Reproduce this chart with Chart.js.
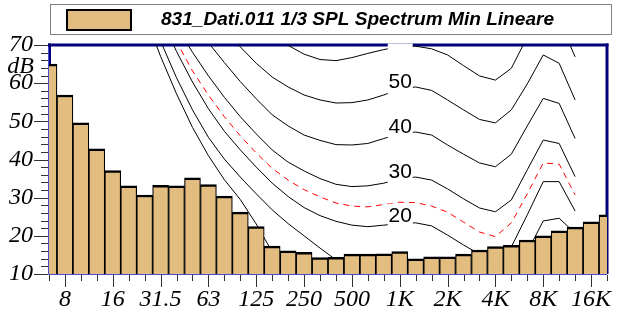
<!DOCTYPE html>
<html><head><meta charset="utf-8">
<script src="https://cdn.jsdelivr.net/npm/chart.js@4/dist/chart.umd.min.js"></script>
<style>html,body{margin:0;padding:0;background:#fff;overflow:hidden}#wrap{width:618px;height:322px}</style>
</head><body><div id="wrap"><canvas id="c" width="618" height="322"></canvas></div>
<script>
// ---- data ----
const bands = ['6.3','8','10','12.5','16','20','25','31.5','40','50','63','80','100','125','160','200','250','315','400','500','630','800','1K','1.25K','1.6K','2K','2.5K','3.15K','4K','5K','6.3K','8K','10K','12.5K','16K','20K'];
const seriesName = '831_Dati.011 1/3 SPL Spectrum Min Lineare';
const splMin = [65.0,56.9,49.6,42.8,37.1,33.1,30.7,33.2,33.1,35.2,33.4,30.4,26.2,22.4,17.3,16.1,15.7,14.3,14.4,15.2,15.2,15.3,15.9,14.0,14.5,14.5,15.2,16.3,17.2,17.5,18.9,20.0,21.3,22.3,23.7,25.5];
// contour curves: first band index + values (dB)
const curve60Start = 13, curve60 = [76.5,73.1,69.9,67.6,66.2,65.9,66.7,67.8,68.8,69.6,69.7,69.0,67.4,64.6,61.9,60.8,63.9,72.1,78.6,76.6,66.9];
const curve50Start = 11, curve50 = [74.5,69.5,65.2,61.6,59.0,56.9,55.6,54.8,54.9,55.6,56.9,58.5,59.0,58.1,55.6,53.0,50.5,49.6,53.0,59.8,67.4,65.2,55.6];
const curve40Start = 9,  curve40 = [76.0,70.6,65.4,60.4,55.9,51.7,48.8,46.4,45.0,43.9,43.8,44.2,45.5,46.7,47.2,46.4,43.8,41.4,39.1,38.1,41.4,48.8,56.0,54.7,45.5];
const curve30Start = 8,  curve30 = [74.9,68.1,61.9,56.3,51.2,46.7,42.5,39.3,37.0,35.0,33.5,32.9,33.1,33.8,34.9,35.4,34.6,32.3,29.7,27.3,26.3,29.4,37.3,45.1,44.2,35.5];
const curveRedStart = 7, curveRed = [79.0,70.9,63.2,56.9,51.2,46.2,41.7,37.7,34.6,32.1,30.2,28.6,27.8,27.6,28.2,28.8,28.7,27.8,26.2,23.6,21.0,19.8,23.4,31.0,39.1,38.8,30.7];
const curve20Start = 7,  curve20 = [77.3,68.3,60.3,53.3,47.4,42.5,38.0,33.8,30.3,27.4,25.3,23.8,22.8,22.4,22.8,23.2,23.4,22.6,20.2,17.6,15.2,14.2,17.1,25.5,34.2,34.2,26.5];
const curve10Start = 6,  curve10 = [81.9,71.0,61.4,53.0,45.8,40.1,35.4,31.0,26.8,23.2,20.0,16.8,13.7,12.6,12.1,12.4,12.9,13.2,12.4,10.0,7.4,5.3,4.2,7.4,15.8,23.9,24.6,20.7];
const curve0Start = 6,   curve0 = [78.1,67.0,57.2,48.4,41.0,34.7,29.5,23.1,15.8,12.4,9.8,7.5,6.0,5.0,4.5,5.0,5.5,5.5,5.0,3.0,1.0,-1.0,-2.0,0.0,8.0,15.0,16.0,12.0];
const yTickLabels = [10,20,30,40,50,60,70];
const curveLabelBand = 22; // 1K

// ---- helpers ----
function onBands(start, vals){ return bands.map((_, i) => (i >= start && i - start < vals.length) ? vals[i - start] : null); }
const BAR = '#E3BD80', NAVY = '#00007C';
const SERIF = 'Liberation Serif';
const lineDs = (vals, start, color, dash, label) => ({
  type:'line', label, data:onBands(start, vals), borderColor:color, borderWidth:1, borderDash:dash,
  pointRadius:0, tension:0, fill:false, order:1, spanGaps:false
});
const labelled = [[curve60,curve60Start,'60'],[curve50,curve50Start,'50'],[curve40,curve40Start,'40'],[curve30,curve30Start,'30'],[curve20,curve20Start,'20']];

const decor = {
  id:'decor',
  beforeDatasetsDraw(chart){
    const {ctx, chartArea:a} = chart;
    ctx.save();
    ctx.fillStyle = NAVY;
    ctx.fillRect(a.left-1, a.top-1.5, a.right-a.left+2.5, 3);
    ctx.fillRect(a.right-1.5, a.top-1.5, 3, a.bottom-a.top+1.5);
    ctx.fillRect(a.left-1, a.top-1.5, 3, a.bottom-a.top);
    ctx.restore();
  },
  afterDatasetsDraw(chart){
    const {ctx, chartArea:a, scales:{x,y}} = chart;
    ctx.save();
    ctx.strokeStyle = '#4a4ad0'; ctx.lineWidth = 1;
    ctx.beginPath();
    ctx.moveTo(a.left-0.5, a.top+2); ctx.lineTo(a.left-0.5, a.bottom+0.5);
    ctx.lineTo(a.right, a.bottom+0.5);
    ctx.stroke();
    // curve labels
    ctx.beginPath(); ctx.rect(a.left, a.top-1.5, a.right-a.left, a.bottom-a.top+1.5); ctx.clip();
    ctx.font = '21px Liberation Sans';
    ctx.textAlign = 'center'; ctx.textBaseline = 'middle';
    labelled.forEach(([vals,start,txt]) => {
      const v = vals[curveLabelBand - start];
      const cx = x.getPixelForValue(curveLabelBand) + 0.5;
      const cy = y.getPixelForValue(v) - 8;
      ctx.fillStyle = '#fff';
      ctx.fillRect(cx-12.5, cy-12, 25, 25.5);
      ctx.save();
      ctx.beginPath(); ctx.rect(a.left, a.top+2.5, a.right-a.left, a.bottom-a.top); ctx.clip();
      ctx.fillStyle = '#000';
      ctx.fillText(txt, cx, cy+1);
      ctx.restore();
    });
    ctx.restore();
  },
  afterDraw(chart){
    const {ctx, chartArea:a, scales:{x,y}} = chart;
    ctx.save();
    ctx.strokeStyle = '#333'; ctx.lineWidth = 1;
    ctx.beginPath();
    for (let v = 10; v <= 70; v += 2){
      const py = Math.round(y.getPixelForValue(v)) + 0.5;
      const len = v % 10 === 0 ? 14 : 7;
      ctx.moveTo(a.left-1-len, py); ctx.lineTo(a.left-1, py);
    }
    for (let i = 0; i < bands.length; i++){
      const px = Math.round(x.getPixelForValue(i)) + 0.5;
      const len = i % 3 === 1 ? 12 : 6;
      ctx.moveTo(px, a.bottom+1); ctx.lineTo(px, a.bottom+1+len);
    }
    ctx.stroke();
    // dB unit
    ctx.fillStyle = '#000';
    ctx.font = 'italic 24px ' + SERIF;
    ctx.textAlign = 'right'; ctx.textBaseline = 'middle';
    ctx.fillText('dB', 34, 67);
    // legend
    ctx.strokeStyle = '#808080'; ctx.lineWidth = 1;
    ctx.strokeRect(50.5, 4.5, 561, 30);
    ctx.fillStyle = BAR; ctx.fillRect(66, 9, 66, 22);
    ctx.strokeStyle = '#000'; ctx.lineWidth = 2; ctx.strokeRect(67, 10, 64, 20);
    let fs = 17;
    ctx.font = 'italic bold ' + fs + 'px Liberation Sans';
    fs = fs * 393 / ctx.measureText(chart.data.datasets[0].label).width;
    ctx.font = 'italic bold ' + fs.toFixed(2) + 'px Liberation Sans';
    ctx.textAlign = 'left'; ctx.textBaseline = 'alphabetic'; ctx.fillStyle = '#000';
    ctx.fillText(chart.data.datasets[0].label, 161, 25);
    ctx.restore();
  }
};

const serifItalic = {family:SERIF, style:'italic', size:24};
new Chart(document.getElementById('c'), {
  type:'bar',
  data:{ labels:bands, datasets:[
    {type:'bar', label:seriesName, data:splMin, backgroundColor:BAR, borderColor:'#000',
     borderWidth:{top:2.5,left:1.2,right:1.2,bottom:0}, borderSkipped:'start',
     barPercentage:1, categoryPercentage:1, order:0, clip:0},
    lineDs(curve60, curve60Start, '#000', [], '60'),
    lineDs(curve50, curve50Start, '#000', [], '50'),
    lineDs(curve40, curve40Start, '#000', [], '40'),
    lineDs(curve30, curve30Start, '#000', [], '30'),
    lineDs(curveRed, curveRedStart, '#ff0000', [6,5], 'ref'),
    lineDs(curve20, curve20Start, '#000', [], '20'),
    lineDs(curve10, curve10Start, '#000', [], '10'),
    lineDs(curve0, curve0Start, '#000', [], '0')
  ]},
  options:{
    responsive:false, animation:false, devicePixelRatio:1,
    layout:{padding:{top:45,right:8,left:0,bottom:0}},
    plugins:{legend:{display:false}, tooltip:{enabled:false}},
    scales:{
      x:{type:'category', offset:false, grid:{display:false, drawTicks:false}, border:{display:false},
         ticks:{autoSkip:false, maxRotation:0, padding:11, color:'#000', font:serifItalic,
                callback:(v,i)=> i % 3 === 1 ? bands[i] : ''},
         afterFit:s=>{ s.height = 48; }},
      y:{type:'linear', min:10, max:70, grid:{display:false, drawTicks:false}, border:{display:false},
         afterBuildTicks:s=>{ s.ticks = yTickLabels.map(v=>({value:v})); },
         ticks:{autoSkip:false, padding:16, color:'#000', font:serifItalic, callback:v=>String(v)},
         afterFit:s=>{ s.width = 49; }}
    }
  },
  plugins:[decor]
});
</script></body></html>
